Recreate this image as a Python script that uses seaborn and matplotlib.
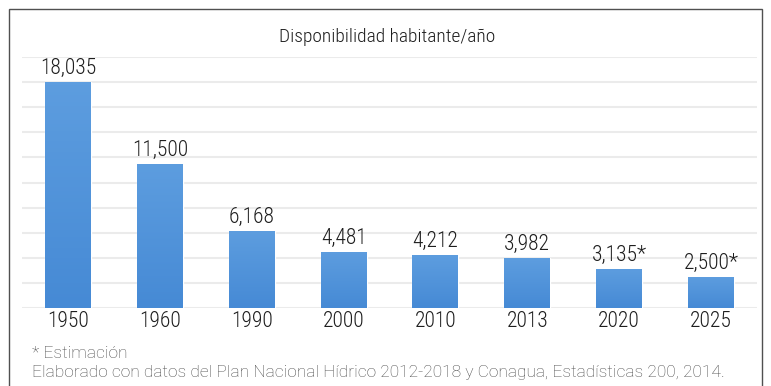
import matplotlib
matplotlib.use("Agg")
import matplotlib.pyplot as plt
from matplotlib.patches import Rectangle
from matplotlib.colors import LinearSegmentedColormap
import numpy as np
import pandas as pd
import seaborn as sns

# Water availability per inhabitant per year (m³)
years = ["1950", "1960", "1990", "2000", "2010", "2013", "2020", "2025"]
values = [18035, 11500, 6168, 4481, 4212, 3982, 3135, 2500]
value_labels = ["18,035", "11,500", "6,168", "4,481", "4,212", "3,982", "3,135*", "2,500*"]
title = "Disponibilidad habitante/año"
note_estimate = "* Estimación"
note_source = ("Elaborado con datos del Plan Nacional Hídrico 2012-2018 y Conagua, "
               "Estadísticas 200, 2014.")

df = pd.DataFrame({"year": years, "value": values})

sns.set_theme(style="white")
plt.rcParams["font.family"] = ["Roboto Condensed", "DejaVu Sans"]
plt.rcParams["font.weight"] = "light"

BAR = "#4c8cd6"
GRID = "#ebebeb"
TEXT = "#1e1e1e"
NOTE = "#4a4a4a"

fig = plt.figure(figsize=(7.71, 3.86), dpi=100)
fig.patch.set_facecolor("white")

# outer frame
fig.add_artist(Rectangle((9 / 771, -0.05), (762 - 9) / 771, 1 - 9 / 386 + 0.05,
                         transform=fig.transFigure, fill=False,
                         edgecolor="#505050", linewidth=1.0))

ax = fig.add_axes([22 / 771, 1 - 308 / 386, (757 - 22) / 771, (308 - 57) / 386])
sns.barplot(data=df, x="year", y="value", color=BAR, saturation=1, width=0.5, ax=ax)

ax.set_ylim(0, 20000)
ax.set_yticks(range(0, 20001, 2000))
ax.yaxis.grid(True, color=GRID, linewidth=1.5)
ax.set_axisbelow(True)
ax.set_yticklabels([])
ax.tick_params(axis="y", length=0)
ax.tick_params(axis="x", length=0, pad=2.5, labelsize=15.5, labelcolor=TEXT)
for s in ax.spines.values():
    s.set_visible(False)
ax.set_xlabel("")
ax.set_ylabel("")

# soft vertical shading on each bar, lighter at the top
shade = LinearSegmentedColormap.from_list("shade", ["#468ad5", "#5d9ddf"])
grad = np.linspace(0, 1, 64).reshape(-1, 1)
for bar in ax.containers[0]:
    x0, y0 = bar.get_x(), bar.get_y()
    w, h = bar.get_width(), bar.get_height()
    im = ax.imshow(grad, cmap=shade, origin="lower", aspect="auto",
                   extent=(x0, x0 + w, y0, y0 + h), zorder=bar.get_zorder() + 0.1)
    im.set_clip_path(bar)
ax.set_xlim(-0.5, len(years) - 0.5)
ax.set_ylim(0, 20000)

ax.bar_label(ax.containers[0], labels=value_labels, padding=2, fontsize=15.5, color=TEXT)

fig.text(387 / 771, 1 - 42 / 386, title, ha="center", va="baseline",
         fontsize=14, color=TEXT)

fig.text(32 / 771, 1 - 358 / 386, note_estimate, ha="left", va="baseline",
         fontsize=12.5, color=NOTE, family=["Roboto", "DejaVu Sans"], fontweight="light")
fig.text(32 / 771, 1 - 377.5 / 386, note_source, ha="left", va="baseline",
         fontsize=12.5, color=NOTE, family=["Roboto", "DejaVu Sans"], fontweight="light")

fig.savefig("out.png", dpi=100)
